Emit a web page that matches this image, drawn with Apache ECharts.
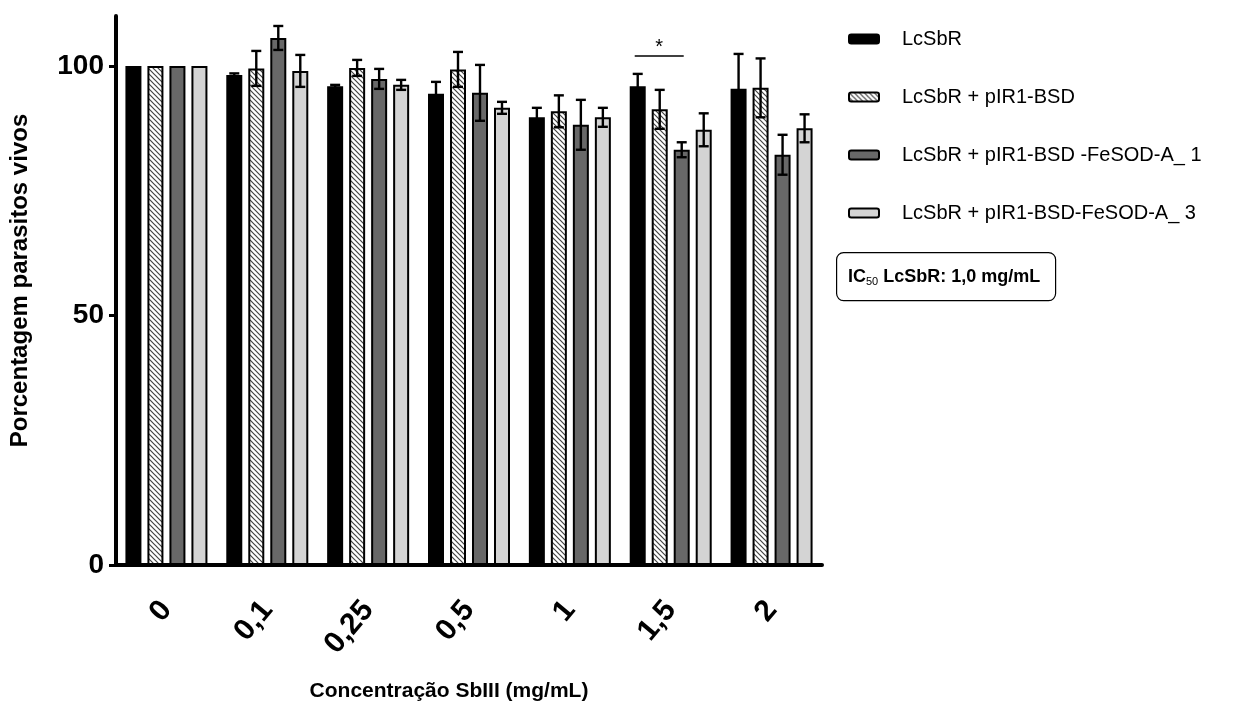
<!DOCTYPE html>
<html>
<head>
<meta charset="utf-8">
<script src="https://cdn.jsdelivr.net/npm/echarts@6/dist/echarts.min.js"></script>
<style>
html, body { margin: 0; padding: 0; background: #fff; }
#main { width: 1234px; height: 707px; }
</style>
</head>
<body>
<div id="main"></div>
<script>
var chartDom = document.getElementById('main');
var myChart = echarts.init(chartDom);
var option;

// data
var categories = ['0', '0,1', '0,25', '0,5', '1', '1,5', '2'];
var seriesNames = ['LcSbR', 'LcSbR + pIR1-BSD', 'LcSbR + pIR1-BSD -FeSOD-A_ 1', 'LcSbR + pIR1-BSD-FeSOD-A_ 3'];
var lcsbr = [100, 98.2, 95.9, 94.4, 89.7, 95.9, 95.4];
var lcsbrErr = [0, 0.3, 0.3, 2.4, 1.9, 2.5, 7.0];
var bsd = [100, 99.5, 99.6, 99.3, 90.9, 91.3, 95.6];
var bsdErr = [0, 3.5, 1.6, 3.5, 3.2, 3.9, 5.9];
var fesod1 = [100, 105.6, 97.4, 94.6, 88.2, 83.2, 82.2];
var fesod1Err = [0, 2.4, 2.0, 5.6, 5.0, 1.5, 4.0];
var fesod3 = [100, 99.0, 96.2, 91.6, 89.7, 87.2, 87.5];
var fesod3Err = [0, 3.2, 1.0, 1.2, 1.9, 3.3, 2.8];
var yTicks = [0, 50, 100];
// significance bar at 1,5 : from LcSbR bar to FeSOD-A_1 bar
var sigCategory = '1,5';
var sigValue = 102;

var means = [lcsbr, bsd, fesod1, fesod3];
var errs = [lcsbrErr, bsdErr, fesod1Err, fesod3Err];

// hatch fill
var hatch = document.createElement('canvas');
hatch.width = 5;
hatch.height = 5;
var ctx = hatch.getContext('2d');
ctx.fillStyle = '#fff';
ctx.fillRect(0, 0, 5, 5);
ctx.strokeStyle = '#444';
ctx.lineWidth = 1.2;
ctx.beginPath();
ctx.moveTo(-1, -1); ctx.lineTo(6, 6);
ctx.moveTo(-1, 4); ctx.lineTo(1, 6);
ctx.moveTo(4, -1); ctx.lineTo(6, 1);
ctx.stroke();

var fills = ['#000', { image: hatch, repeat: 'repeat' }, '#686868', '#d4d4d4'];

var BAR_W = 16;
var BAR_STEP = 22;

function barOffset(i) {
  return (i - 1.5) * BAR_STEP;
}

var series = [];
for (var i = 0; i < 4; i++) {
  series.push({
    name: seriesNames[i],
    type: 'bar',
    barWidth: BAR_W,
    barGap: '37.5%',
    itemStyle: { color: fills[i], borderColor: '#000', borderWidth: 2 },
    data: means[i]
  });
}
for (var k = 0; k < 4; k++) {
  (function (i) {
    series.push({
      name: 'err' + i,
      type: 'custom',
      z: 5,
      renderItem: function (params, api) {
        var e = api.value(2);
        if (!e) return;
        var m = api.value(1);
        var c = api.value(0);
        var top = api.coord([c, m + e]);
        var bot = api.coord([c, m - e]);
        var x = top[0] + barOffset(i);
        var st = { stroke: '#000', lineWidth: 2.4 };
        return {
          type: 'group',
          children: [
            { type: 'line', shape: { x1: x, y1: top[1], x2: x, y2: bot[1] }, style: st },
            { type: 'line', shape: { x1: x - 5, y1: top[1], x2: x + 5, y2: top[1] }, style: st },
            { type: 'line', shape: { x1: x - 5, y1: bot[1], x2: x + 5, y2: bot[1] }, style: st }
          ]
        };
      },
      data: categories.map(function (c, j) { return [j, means[i][j], errs[i][j]]; })
    });
  })(k);
}

option = {
  animation: false,
  backgroundColor: '#fff',
  grid: { left: 112, right: 412, top: 16, bottom: 136 },
  legend: {
    data: seriesNames,
    orient: 'vertical',
    left: 843,
    top: 24,
    itemWidth: 30,
    itemHeight: 9,
    itemGap: 38,
    icon: 'roundRect',
    textStyle: { fontFamily: 'Liberation Sans', fontSize: 20, color: '#000', padding: [0, 0, 0, 18] }
  },
  xAxis: {
    type: 'category',
    data: categories,
    name: 'Concentração SbIII (mg/mL)',
    nameLocation: 'middle',
    nameGap: 116,
    nameTextStyle: { fontFamily: 'Liberation Sans', fontWeight: 'bold', fontSize: 21, color: '#000', padding: [0, 40, 0, 0] },
    axisLine: { lineStyle: { color: '#000', width: 4 } },
    axisTick: { alignWithLabel: true, length: 8, lineStyle: { color: '#000', width: 3 } },
    axisLabel: { rotate: 50, margin: 40, fontFamily: 'Liberation Sans', fontWeight: 'bold', fontSize: 30, color: '#000' }
  },
  yAxis: {
    type: 'value',
    min: 0,
    max: 110,
    interval: 50,
    name: 'Porcentagem parasitos vivos',
    nameLocation: 'middle',
    nameGap: 84,
    nameTextStyle: { fontFamily: 'Liberation Sans', fontWeight: 'bold', fontSize: 24, color: '#000', padding: [0, 0, 0, 20] },
    splitLine: { show: false },
    axisLine: { show: true, lineStyle: { color: '#000', width: 4 } },
    axisTick: { show: true, length: 7, customValues: yTicks, lineStyle: { color: '#000', width: 3 } },
    axisLabel: { margin: 12, customValues: yTicks, fontFamily: 'Liberation Sans', fontWeight: 'bold', fontSize: 28, color: '#000' }
  },
  series: series
};

option && myChart.setOption(option);

// significance marker and IC50 box
var sigIdx = categories.indexOf(sigCategory);
var p = myChart.convertToPixel({ gridIndex: 0 }, [sigIdx, sigValue]);
var x1 = p[0] + barOffset(0) - 3;
var x2 = p[0] + barOffset(2) + 2;
myChart.setOption({
  graphic: [
    { type: 'line', shape: { x1: x1, y1: p[1], x2: x2, y2: p[1] }, style: { stroke: '#000', lineWidth: 1.5 } },
    {
      type: 'text', x: (x1 + x2) / 2, y: p[1] + 2,
      style: { text: '*', fontFamily: 'Liberation Sans', fontSize: 20, fill: '#000', align: 'center', verticalAlign: 'bottom' }
    },
    {
      type: 'rect', left: 836, top: 252,
      shape: { width: 219, height: 48, r: 7 },
      style: { fill: '#fff', stroke: '#000', lineWidth: 1.2 }
    },
    {
      type: 'text', x: 848, y: 277,
      style: {
        text: '{a|IC}{s|50}{a| LcSbR: 1,0 mg/mL}',
        verticalAlign: 'middle',
        rich: {
          a: { fontFamily: 'Liberation Sans', fontWeight: 'bold', fontSize: 18, fill: '#000' },
          s: { fontFamily: 'Liberation Sans', fontSize: 11, fill: '#000', padding: [10, 0, 0, 0] }
        }
      }
    }
  ]
});
</script>
</body>
</html>
